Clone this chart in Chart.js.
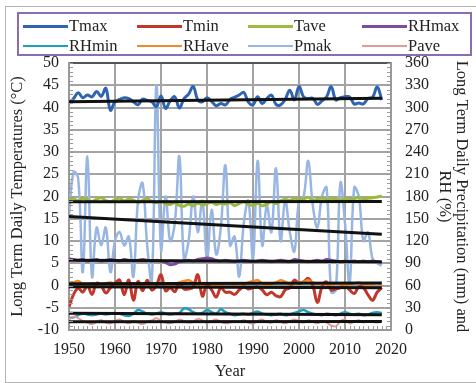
<!DOCTYPE html>
<html>
<head>
<meta charset="utf-8">
<script src="https://cdn.jsdelivr.net/npm/chart.js@4"></script>
<style>
  html, body { margin: 0; padding: 0; background: #fff; }
  #wrap { position: relative; width: 476px; height: 383px; overflow: hidden; }
  #frame { position: absolute; left: 5px; top: 6px; width: 480px; height: 375px; border: 1px solid #b4b4b4; }
  #chart { position: absolute; left: 0; top: 0; }
  #legend { position: absolute; left: 17px; top: 12px; width: 451px; height: 40px; border: 2px solid #8a6cb0; }
  .item { position: absolute; height: 20px; display: flex; align-items: center;
          font-family: "Liberation Serif", serif; font-size: 16.5px; color: #222; white-space: nowrap; }
  .item i { display: inline-block; width: 45px; margin-right: 1px; }
</style>
</head>
<body>
<div id="wrap">
  <div id="frame"></div>
  <canvas id="chart" width="476" height="383"></canvas>
  <div id="legend"></div>
</div>
<script>
// years on the x axis
var years = [];
for (var yr = 1950; yr <= 2018; yr++) years.push(yr);

// temperatures, degC (left axis)
var tmax = [40.9, 42.0, 43.3, 42.2, 42.8, 42.4, 43.6, 42.5, 44.3, 39.4,
            41.3, 41.8, 42.2, 42.0, 41.3, 40.6, 41.9, 41.6, 41.3, 40.2,
            42.6, 39.8, 41.5, 42.4, 39.9, 42.0, 43.0, 44.7, 41.7, 41.3,
            42.2, 41.4, 40.4, 40.9, 40.6, 41.8, 42.3, 42.8, 43.4, 41.2,
            40.6, 42.4, 40.9, 42.0, 42.8, 40.7, 40.6, 41.8, 43.9, 41.7,
            44.7, 42.4, 42.0, 42.1, 40.7, 41.5, 42.4, 44.7, 41.7, 42.2,
            42.4, 42.4, 40.8, 41.0, 40.8, 42.0, 42.3, 44.6, 41.7];
var tmin = [-4.8, -2.0, -0.6, -1.5, 0.0, -2.0, 0.5, 0.0, -1.7, -0.5,
            0.5, 1.2, -2.1, 1.2, -3.3, 0.9, -1.2, 1.2, -1.0, 0.0,
            2.4, -1.2, -0.5, -1.4, 0.5, -0.8, -0.8, -0.3, 2.4, -2.4,
            0.2, -1.0, -2.6, -0.5, -1.5, -1.5, -2.0, -1.0, -0.3, -0.8,
            -0.5, -0.3, -1.0, -2.1, -1.5, -2.3, -2.5, -1.0, -0.5, 1.2,
            0.5, 0.8, 1.6, 0.0, -3.8, -0.3, 0.8, -1.0, -0.8, -0.5,
            0.0, -1.0, -1.8, -0.3, -0.5, -2.1, -3.3, -1.5, -0.5];
var tave = [19.2, 19.5, 19.0, 19.6, 19.3, 18.9, 19.4, 19.7, 19.1, 18.8,
            19.3, 19.6, 19.0, 19.4, 19.2, 18.7, 19.1, 19.5, 18.9, 18.6,
            19.0, 18.4, 18.2, 18.6, 18.0, 17.8, 18.3, 17.9, 18.5, 18.1,
            18.4, 18.7, 18.2, 18.5, 18.3, 18.6, 18.0, 18.4, 18.8, 18.3,
            18.0, 18.5, 17.9, 18.3, 18.8, 18.4, 19.0, 19.4, 19.1, 19.6,
            19.3, 19.5, 19.8, 19.2, 19.4, 19.7, 19.3, 19.6, 19.4, 19.2,
            19.6, 19.3, 19.5, 19.8, 19.4, 19.6, 19.7, 19.9, 20.1];

// relative humidity, % (right axis)
var rhmax = [96, 95, 94, 95, 93, 94, 95, 93, 94, 95,
             94, 93, 95, 94, 93, 94, 95, 94, 93, 94,
             93, 91, 88, 89, 92, 93, 94, 93, 95, 96,
             97, 96, 94, 93, 94, 93, 92, 93, 94, 93,
             92, 93, 94, 93, 92, 93, 94, 93, 92, 95,
             94, 93, 92, 93, 94, 93, 95, 94, 93, 92,
             93, 92, 93, 92, 93, 92, 93, 92, 91];
var rhmin = [16, 17, 20, 22, 21, 20, 21, 22, 21, 22,
             23, 22, 20, 19, 22, 27, 25, 22, 21, 22,
             24, 22, 21, 22, 23, 29, 28, 24, 22, 23,
             27, 24, 22, 28, 24, 22, 20, 21, 22, 21,
             23, 25, 22, 21, 20, 21, 22, 20, 21, 23,
             25, 27, 24, 22, 21, 20, 22, 21, 20, 22,
             24, 22, 21, 22, 20, 21, 23, 24, 23];
var rhave = [60, 64, 66, 62, 61, 63, 62, 61, 63, 64,
             62, 61, 60, 62, 63, 61, 62, 60, 61, 62,
             63, 61, 60, 62, 64, 66, 67, 64, 62, 61,
             63, 62, 60, 61, 63, 62, 61, 63, 62, 64,
             66, 67, 63, 61, 62, 64, 67, 65, 62, 63,
             64, 65, 67, 64, 62, 63, 62, 61, 63, 62,
             61, 62, 63, 64, 62, 61, 62, 63, 61];

// precipitation, mm (right axis)
var pmak = [156, 213, 204, 78, 234, 72, 138, 114, 138, 78,
            120, 132, 114, 126, 72, 174, 198, 114, 66, 330,
            108, 180, 120, 144, 234, 96, 120, 180, 132, 174,
            96, 162, 102, 138, 222, 114, 126, 72, 144, 174,
            96, 228, 114, 168, 132, 218, 120, 174, 132, 106,
            174, 180, 228, 168, 138, 180, 192, 51, 54, 198,
            144, 63, 192, 180, 120, 132, 96, 90, 87];
var pave = [14, 18, 16, 12, 10, 8, 11, 13, 10, 9,
            12, 14, 11, 9, 12, 10, 8, 11, 13, 16,
            12, 10, 9, 11, 14, 12, 10, 11, 15, 13,
            10, 12, 14, 11, 9, 10, 12, 11, 13, 10,
            9, 12, 14, 11, 10, 13, 11, 9, 12, 14,
            12, 10, 13, 11, 9, 12, 10, 6, 5, 12,
            14, 9, 11, 13, 10, 12, 11, 10, 12];

// linear trend end values (1950, 2018)
var trendYears = [1950, 2018];
var tmaxTrend = [41.3, 42.1];
var tminTrend = [-0.3, -0.5];
var taveTrend = [18.8, 18.9];
var rhmaxTrend = [94, 92];
var rhminTrend = [22.5, 20.5];
var rhaveTrend = [62.5, 63.5];
var pmakTrend = [153, 129];
var paveTrend = [11, 11.5];

var series = [
  { label: 'Tmax',  data: tmax,  trend: tmaxTrend,  color: '#2f65b0', width: 3,   axis: 'y' },
  { label: 'Tmin',  data: tmin,  trend: tminTrend,  color: '#c2372a', width: 3,   axis: 'y' },
  { label: 'Tave',  data: tave,  trend: taveTrend,  color: '#9bbb3c', width: 3,   axis: 'y' },
  { label: 'RHmax', data: rhmax, trend: rhmaxTrend, color: '#7a4e9c', width: 3,   axis: 'y1' },
  { label: 'RHmin', data: rhmin, trend: rhminTrend, color: '#1f9fc0', width: 2.5, axis: 'y1' },
  { label: 'RHave', data: rhave, trend: rhaveTrend, color: '#f08a2a', width: 2.5, axis: 'y1' },
  { label: 'Pmak',  data: pmak,  trend: pmakTrend,  color: '#98b6e2', width: 2.5, axis: 'y1' },
  { label: 'Pave',  data: pave,  trend: paveTrend,  color: '#e39a9a', width: 2,   axis: 'y1' }
];

function pts(xs, ys) {
  return xs.map(function (x, i) { return { x: x, y: ys[i] }; });
}

var datasets = [];
series.forEach(function (s, i) {
  datasets.push({
    label: s.label,
    data: pts(years, s.data),
    yAxisID: s.axis,
    borderColor: s.color,
    borderWidth: s.width,
    pointRadius: 0,
    tension: 0.4,
    order: i === 6 ? 20 : 10 - i
  });
});
series.forEach(function (s) {
  datasets.push({
    label: s.label + ' trend',
    data: pts(trendYears, s.trend),
    yAxisID: s.axis,
    borderColor: '#111',
    borderWidth: 3,
    pointRadius: 0,
    order: 0
  });
});

// legend box, 4 columns x 2 rows
var legend = document.getElementById('legend');
var colX = [4, 118, 229, 343];
var rowY = [2, 22];
series.forEach(function (s, i) {
  var el = document.createElement('div');
  el.className = 'item';
  el.style.left = colX[i % 4] + 'px';
  el.style.top = rowY[Math.floor(i / 4)] + 'px';
  el.innerHTML = '<i style="height:' + Math.max(2, s.width) + 'px;background:' + s.color + '"></i>' + s.label;
  legend.appendChild(el);
});

// small inward ticks along the three axes
var innerTicks = {
  id: 'innerTicks',
  afterDatasetsDraw: function (chart) {
    var ctx = chart.ctx, a = chart.chartArea, sc = chart.scales;
    ctx.save();
    ctx.strokeStyle = '#9a9a9a';
    ctx.lineWidth = 1;
    ctx.beginPath();
    for (var v = 1950; v <= 2020; v++) {
      var px = Math.round(sc.x.getPixelForValue(v)) + 0.5;
      ctx.moveTo(px, a.bottom); ctx.lineTo(px, a.bottom - 4);
    }
    for (var t = -10; t <= 50; t++) {
      var py = Math.round(sc.y.getPixelForValue(t)) + 0.5;
      ctx.moveTo(a.left, py); ctx.lineTo(a.left + 4, py);
    }
    for (var r = 0; r <= 360; r += 6) {
      var qy = Math.round(sc.y1.getPixelForValue(r)) + 0.5;
      ctx.moveTo(a.right, qy); ctx.lineTo(a.right - 4, qy);
    }
    ctx.stroke();
    ctx.restore();
  }
};

var serif = 'Liberation Serif';
var gridColor = function (c) { return c.tick && c.tick.value === 50 ? '#555' : '#a3a3a3'; };

new Chart(document.getElementById('chart').getContext('2d'), {
  type: 'line',
  data: { datasets: datasets },
  plugins: [innerTicks],
  options: {
    responsive: false,
    animation: false,
    layout: { padding: { top: 63, left: 0, right: 0, bottom: 0 } },
    plugins: { legend: { display: false }, tooltip: { enabled: false } },
    scales: {
      x: {
        type: 'linear', min: 1950, max: 2020,
        ticks: { stepSize: 10, padding: 10, color: '#222', font: { family: serif, size: 16 },
                 callback: function (v) { return String(v); } },
        grid: { color: '#a3a3a3', lineWidth: 2, drawTicks: false },
        border: { color: '#999', width: 2 },
        title: { display: true, text: 'Year', color: '#222', padding: { top: 0, bottom: 1 },
                 font: { family: serif, size: 16.5 } },
        afterFit: function (s) { s.height = 53; }
      },
      y: {
        position: 'left', min: -10, max: 50,
        ticks: { stepSize: 5, padding: 10, color: '#222', font: { family: serif, size: 16 } },
        grid: { color: gridColor, lineWidth: 2, drawTicks: false },
        border: { color: '#999', width: 2 },
        title: { display: true, text: 'Long Term Daily Temperatures (°C)', color: '#222',
                 padding: { top: 8, bottom: 0 }, font: { family: serif, size: 16.5 } },
        afterFit: function (s) { s.width = 69; }
      },
      y1: {
        position: 'right', min: 0, max: 360,
        ticks: { stepSize: 30, padding: 14, color: '#222', font: { family: serif, size: 16 } },
        grid: { drawOnChartArea: false, drawTicks: false },
        border: { color: '#999', width: 2 },
        title: { display: true, text: ['Long Term Daily Precipitation (mm) and', 'RH (%)'], color: '#222',
                 padding: { top: 6, bottom: 0 }, font: { family: serif, size: 16.5, lineHeight: 1.05 } },
        afterFit: function (s) { s.width = 85; }
      }
    }
  }
});
</script>
</body>
</html>
